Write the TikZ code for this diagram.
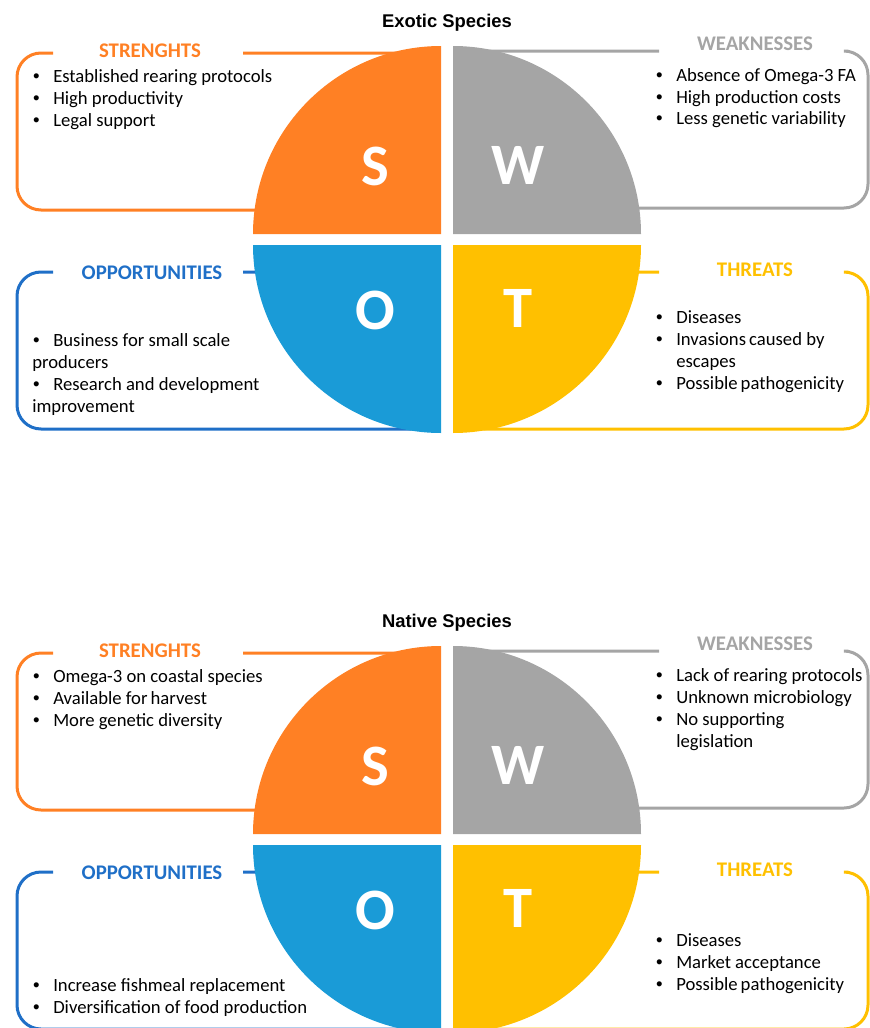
\documentclass[tikz,border=0pt]{standalone}
\usepackage{fontspec}
\setmainfont{Carlito}
\newfontfamily\headfont{Liberation Sans}

\definecolor{sorange}{HTML}{FF8024}
\definecolor{wgray}{HTML}{A5A5A5}
\definecolor{oblue}{HTML}{1A9BD7}
\definecolor{oline}{HTML}{1F6FC7}
\definecolor{tyellow}{HTML}{FFC000}

% bullet followed by a fixed gap before the item text
\newcommand{\bul}{\makebox[15.75pt][l]{\hspace{0.6pt}{\headfont\textbullet}}}

\tikzset{
  frame/.style={line width=2.25pt, rounded corners=18pt},
  item/.style={anchor=base west, inner sep=0pt, font=\fontsize{14}{16.5}\selectfont},
  tag/.style={anchor=base, inner sep=0pt, font=\fontsize{15.6}{18}\selectfont\bfseries},
  letter/.style={anchor=base, inner sep=0pt, text=white, font=\fontsize{44}{50}\selectfont\bfseries},
  heading/.style={anchor=base, inner sep=0pt, font=\headfont\bfseries\fontsize{13.8}{16}\selectfont},
}

% frames, quadrants, headings and letters of one SWOT block
\newcommand{\swotbase}[2]{%
  \node[heading] (#1title) at (447,27) {#2};
  \draw[frame,sorange] (53,53) -- (17,53) -- (17,210) -- (435,210) -- (435,53) -- (243,53);
  \draw[frame,wgray] (659,51) -- (460,51) -- (460,208) -- (868,208) -- (868,51) -- (848,51);
  \draw[frame,oline] (53,272) -- (17,272) -- (17,429) -- (435,429) -- (435,272) -- (243,272);
  \draw[frame,tyellow] (659,272) -- (460,272) -- (460,429) -- (868,429) -- (868,272) -- (848,272);
  \fill[sorange] (441,234) -- ++(-188,0) arc[start angle=180,end angle=270,radius=188] -- cycle;
  \fill[wgray] (453,234) -- ++(0,-188) arc[start angle=270,end angle=360,radius=188] -- cycle;
  \fill[oblue] (441,245) -- ++(-188,0) arc[start angle=180,end angle=90,radius=188] -- cycle;
  \fill[tyellow] (453,245) -- ++(0,188) arc[start angle=90,end angle=0,radius=188] -- cycle;
  \node[letter] (#1S) at (375,185) {S};
  \node[letter] (#1W) at (518,184) {W};
  \node[letter] (#1O) at (375,329) {O};
  \node[letter] (#1T) at (518,327) {T};
  \node[tag,text=sorange] (#1st) at (150,57) {STRENGHTS};
  \node[tag,text=wgray] (#1wk) at (755,50) {WEAKNESSES};
  \node[tag,text=oline] (#1op) at (152,279) {OPPORTUNITIES};
  \node[tag,text=tyellow] (#1th) at (755,276) {THREATS};
}

\begin{document}
\begin{tikzpicture}[x=0.75pt,y=-0.75pt]
  \useasboundingbox (0,0) rectangle (870,1028);
  \clip (0,0) rectangle (870,1028);

  % exotic species
  \swotbase{ex}{Exotic Species}
  \node[item] (exs1) at (32,82)  {\bul Established rearing protocols};
  \node[item] (exs2) at (32,104) {\bul High productivity};
  \node[item] (exs3) at (32,126) {\bul Legal support};
  \node[item] (exw1) at (655,81)  {\bul Absence of Omega-3 FA};
  \node[item] (exw2) at (655,103) {\bul High production costs};
  \node[item] (exw3) at (655,124) {\bul Less genetic variability};
  \node[item] (exo1) at (32,346) {\bul Business for small scale};
  \node[item] (exo2) at (32,368) {producers};
  \node[item] (exo3) at (32,390) {\bul Research and development};
  \node[item] (exo4) at (32,412) {improvement};
  \node[item] (ext1) at (655,323) {\bul Diseases};
  \node[item] (ext2) at (655,345) {\bul Invasions\,caused by};
  \node[item] (ext3) at (655,367) {\hphantom{\bul}escapes};
  \node[item] (ext4) at (655,389) {\bul Possible\,pathogenicity};

  % native species
  \begin{scope}[shift={(0,600)}]
    \swotbase{na}{Native Species}
    \node[item] (nas1) at (32,82)  {\bul Omega-3 on coastal species};
    \node[item] (nas2) at (32,104) {\bul Available for\,harvest};
    \node[item] (nas3) at (32,126) {\bul More genetic diversity};
    \node[item] (naw1) at (655,81)  {\bul Lack of rearing protocols};
    \node[item] (naw2) at (655,103) {\bul Unknown microbiology};
    \node[item] (naw3) at (655,125) {\bul No supporting};
    \node[item] (naw4) at (655,147) {\hphantom{\bul}legislation};
    \node[item] (nao1) at (32,391) {\bul Increase fishmeal replacement};
    \node[item] (nao2) at (32,413) {\bul Diversification of food production};
    \node[item] (nat1) at (655,346) {\bul Diseases};
    \node[item] (nat2) at (655,368) {\bul Market acceptance};
    \node[item] (nat3) at (655,390) {\bul Possible\,pathogenicity};
  \end{scope}
\end{tikzpicture}
\end{document}
